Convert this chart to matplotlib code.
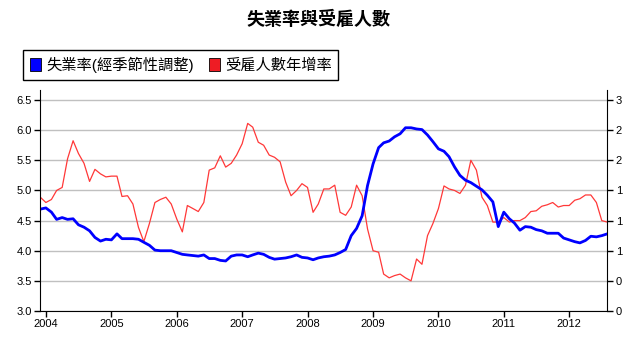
import numpy as np
import pandas as pd
import matplotlib
matplotlib.use('Agg')
import matplotlib.pyplot as plt
from matplotlib.patches import Patch
from matplotlib.ticker import FormatStrFormatter

plt.rcParams['font.family'] = ['Liberation Sans', 'Noto Sans CJK TC']

# monthly, Dec 2003 .. Aug 2012
months = pd.date_range('2003-12-01', '2012-08-01', freq='MS')

# 失業率(經季節性調整), left axis
unemp = [4.69,
         4.71, 4.64, 4.52, 4.55, 4.52, 4.53, 4.43, 4.39, 4.33, 4.22, 4.16, 4.19,
         4.18, 4.28, 4.20, 4.20, 4.20, 4.19, 4.14, 4.09, 4.01, 4.00, 4.00, 4.00,
         3.97, 3.94, 3.93, 3.92, 3.91, 3.93, 3.87, 3.87, 3.84, 3.83, 3.91, 3.93,
         3.93, 3.90, 3.93, 3.96, 3.94, 3.89, 3.86, 3.87, 3.88, 3.90, 3.93, 3.89,
         3.88, 3.85, 3.88, 3.90, 3.91, 3.93, 3.97, 4.02, 4.25, 4.37, 4.58, 5.08,
         5.44, 5.71, 5.79, 5.82, 5.89, 5.94, 6.04, 6.04, 6.02, 6.01, 5.92, 5.81,
         5.69, 5.65, 5.56, 5.39, 5.25, 5.17, 5.13, 5.07, 5.01, 4.92, 4.81, 4.40,
         4.64, 4.53, 4.46, 4.34, 4.40, 4.39, 4.35, 4.33, 4.29, 4.29, 4.29, 4.21,
         4.18, 4.15, 4.13, 4.17, 4.24, 4.23, 4.25, 4.28]

# 受雇人數年增率, right axis
emp_growth = [1.31,
              1.24, 1.28, 1.40, 1.44, 1.82, 2.06, 1.89, 1.76, 1.52, 1.68, 1.62, 1.58,
              1.59, 1.59, 1.32, 1.33, 1.22, 0.91, 0.72, 0.96, 1.24, 1.28, 1.31, 1.22,
              1.02, 0.85, 1.20, 1.16, 1.12, 1.24, 1.67, 1.70, 1.86, 1.71, 1.76, 1.87,
              2.02, 2.29, 2.24, 2.04, 2.00, 1.87, 1.84, 1.78, 1.51, 1.33, 1.40, 1.49,
              1.44, 1.11, 1.22, 1.42, 1.42, 1.47, 1.11, 1.07, 1.18, 1.47, 1.33, 0.89,
              0.60, 0.58, 0.29, 0.24, 0.27, 0.29, 0.24, 0.20, 0.49, 0.42, 0.80, 0.96,
              1.16, 1.46, 1.42, 1.40, 1.36, 1.47, 1.80, 1.67, 1.31, 1.20, 0.98, 0.98,
              1.04, 0.98, 1.00, 1.00, 1.04, 1.12, 1.13, 1.19, 1.21, 1.24, 1.18, 1.20,
              1.20, 1.27, 1.29, 1.34, 1.34, 1.24, 1.00, 0.98]

years = list(range(2004, 2013))
year_labels = [str(y) for y in years]
right_labels = ['0', '0', '1', '1', '1', '2', '2', '3']

fig = plt.figure(figsize=(6.36, 3.41), dpi=100)
ax = fig.add_axes([0.0634, 0.088, 0.8915, 0.648])
ax2 = ax.twinx()
ax.set_zorder(ax2.get_zorder() + 1)
ax.patch.set_visible(False)

ax2.plot(months, emp_growth, color='#ff3838', lw=0.9)
ax.plot(months, unemp, color='#0000ff', lw=2.0)

ax.set_xlim(months[0], months[-1])
ax.set_ylim(3.0, 6.666)
ax.set_yticks(np.arange(3.0, 6.51, 0.5))
ax.yaxis.set_major_formatter(FormatStrFormatter('%.1f'))
ax.set_xticks(pd.to_datetime([f'{y}-01-01' for y in years]))
ax.set_xticklabels(year_labels)

ax2.set_ylim(-0.2, 2.733)
ax2.set_yticks(np.arange(-0.2, 2.61, 0.4))
ax2.set_yticklabels(right_labels)
ax2.grid(axis='y', color='#c0c0c0', lw=1)

for s in ['top', 'right']:
    ax.spines[s].set_visible(False)
for s in ['top', 'left', 'bottom']:
    ax2.spines[s].set_visible(False)
ax.tick_params(length=4, width=1, labelsize=8, pad=2)
ax2.tick_params(length=4, width=1, labelsize=8, pad=2)

fig.text(0.5, 1 - 20 / 341, '失業率與受雇人數', ha='center', va='center',
         fontsize=13, fontweight='bold')

handles = [Patch(facecolor='#0000ff', edgecolor='black', lw=0.6),
           Patch(facecolor='#ee1c24', edgecolor='black', lw=0.6)]
fig.legend(handles, ['失業率(經季節性調整)', '受雇人數年增率'],
           loc='upper left', bbox_to_anchor=(23 / 636, 1 - 50 / 341), ncol=2,
           fancybox=False, edgecolor='black', framealpha=1, fontsize=11,
           handlelength=0.7, handleheight=0.9, handletextpad=0.35,
           columnspacing=1.0, borderpad=0.45, borderaxespad=0)

fig.savefig('out.png', dpi=100)
